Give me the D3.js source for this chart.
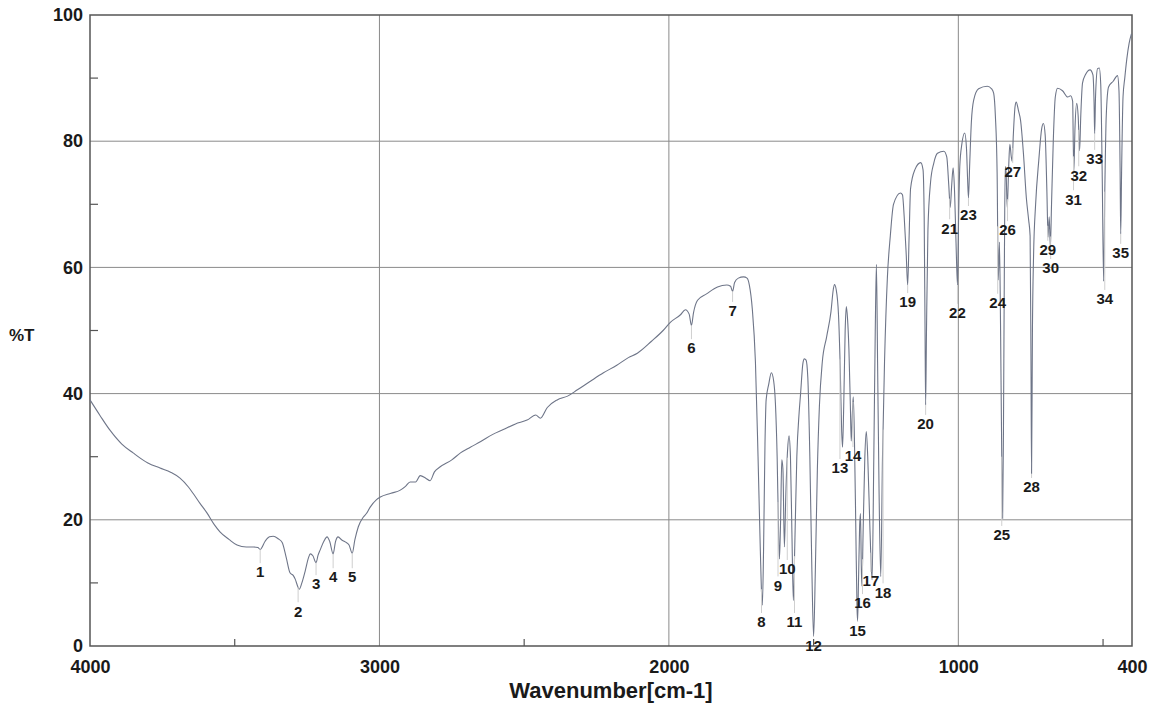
<!DOCTYPE html>
<html>
<head>
<meta charset="utf-8">
<script src="https://cdn.jsdelivr.net/npm/d3@7"></script>
<style>
    body { margin: 0; background: #fff; }
    svg text { font-family: "Liberation Sans", Arial, sans-serif; fill: #1a1a1a; }
</style>
</head>
<body>
<script>
// Spectrum trace, [wavenumber cm-1, %T]
let spectrum = [
    [4000, 39.0], [3965, 36.5], [3931, 34.2], [3890, 32.0], [3851, 30.6], [3800, 29.0],
    [3758, 28.2], [3720, 27.5], [3689, 26.6], [3660, 25.2], [3644, 24.2], [3620, 22.6],
    [3596, 21.1], [3570, 19.2], [3551, 18.1], [3520, 16.9], [3492, 16.0], [3460, 15.7],
    [3436, 15.7], [3420, 15.6], [3412, 15.3], [3395, 16.6], [3380, 17.3], [3367, 17.4],
    [3350, 17.0], [3336, 16.4], [3322, 14.0], [3309, 11.6], [3298, 11.2], [3291, 10.6],
    [3282, 9.4], [3277, 9.0], [3268, 10.0], [3257, 11.8], [3245, 14.0], [3239, 14.6],
    [3230, 14.3], [3219, 13.2], [3212, 14.4], [3205, 15.2], [3192, 16.6], [3181, 17.3],
    [3172, 16.6], [3160, 14.6], [3152, 16.5], [3143, 17.3], [3130, 16.8], [3118, 16.5],
    [3105, 16.0], [3094, 14.7], [3085, 16.8], [3073, 18.9], [3056, 20.4], [3045, 21.0],
    [3032, 22.0], [3010, 23.2], [2997, 23.6], [2960, 24.2], [2928, 24.7], [2910, 25.3],
    [2894, 26.0], [2875, 26.0], [2859, 27.0], [2840, 26.6], [2825, 26.2], [2810, 27.6],
    [2790, 28.4], [2750, 29.5], [2720, 30.6], [2686, 31.5], [2650, 32.4], [2610, 33.5],
    [2572, 34.3], [2530, 35.2], [2490, 35.8], [2460, 36.6], [2444, 36.1], [2420, 37.8],
    [2386, 39.0], [2350, 39.6], [2316, 40.6], [2270, 42.0], [2226, 43.3], [2180, 44.5],
    [2140, 45.7], [2109, 46.4], [2060, 48.3], [2020, 50.0], [1995, 51.3], [1960, 52.5],
    [1943, 53.3], [1930, 52.6], [1922, 50.8], [1915, 52.8], [1901, 54.8], [1870, 55.8],
    [1832, 56.9], [1800, 57.2], [1787, 57.0], [1780, 56.2], [1773, 57.6], [1760, 58.3],
    [1742, 58.5], [1730, 58.3], [1722, 57.2], [1712, 53.5], [1701, 45.0], [1692, 30.0],
    [1684, 15.0], [1679, 7.5], [1677, 6.5], [1673, 15.0], [1668, 32.0], [1664, 39.0],
    [1655, 41.5], [1646, 43.3], [1638, 42.0], [1632, 38.5], [1626, 30.0], [1621, 18.0],
    [1618, 13.8], [1614, 20.0], [1610, 29.5], [1606, 28.0], [1601, 15.7], [1596, 24.0],
    [1590, 31.0], [1585, 33.3], [1580, 30.0], [1575, 18.0], [1570, 7.2], [1565, 16.0],
    [1558, 30.0], [1550, 37.0], [1545, 40.0], [1537, 44.8], [1532, 45.5], [1526, 45.3],
    [1520, 42.5], [1513, 30.0], [1506, 12.0], [1500, 1.5], [1494, 12.0], [1487, 28.0],
    [1480, 38.0], [1470, 45.0], [1455, 49.0], [1440, 53.0], [1432, 56.5], [1428, 57.3],
    [1422, 56.5], [1414, 52.5], [1408, 44.0], [1403, 34.0], [1400, 31.5], [1396, 38.0],
    [1391, 50.0], [1387, 53.8], [1383, 52.0], [1378, 47.0], [1373, 38.0], [1370, 32.5],
    [1366, 37.0], [1363, 39.5], [1359, 33.0], [1354, 18.0], [1350, 6.0], [1348, 4.0],
    [1345, 10.0], [1341, 19.0], [1338, 21.0], [1335, 12.0], [1333, 9.5], [1329, 18.0],
    [1323, 30.0], [1318, 34.0], [1313, 30.0], [1305, 18.0], [1298, 10.5], [1292, 30.0],
    [1287, 50.0], [1283, 60.5], [1279, 45.0], [1274, 25.0], [1268, 11.0], [1262, 30.0],
    [1255, 45.0], [1245, 58.5], [1235, 65.0], [1224, 70.0], [1200, 71.8], [1193, 71.5],
    [1187, 68.0], [1180, 62.0], [1175, 57.2], [1170, 65.0], [1165, 72.5], [1150, 75.5],
    [1130, 76.6], [1122, 75.5], [1118, 68.0], [1115, 50.0], [1113, 38.2], [1110, 50.0],
    [1105, 66.0], [1096, 73.5], [1085, 76.5], [1072, 78.1], [1050, 78.4], [1040, 77.5],
    [1033, 73.0], [1028, 69.5], [1023, 73.0], [1018, 75.8], [1013, 72.0], [1008, 64.0],
    [1003, 57.2], [999, 68.0], [995, 76.0], [988, 79.5], [978, 81.3], [972, 79.0],
    [968, 74.0], [965, 71.0], [961, 76.0], [955, 83.0], [947, 86.5], [930, 88.3],
    [900, 88.7], [885, 88.3], [878, 87.6], [872, 84.0], [866, 75.0], [862, 58.0],
    [858, 64.0], [854, 50.0], [850, 30.0], [847, 20.2], [844, 35.0], [841, 60.0],
    [838, 76.0], [835, 75.0], [831, 69.5], [826, 76.0], [822, 79.5], [817, 77.5],
    [814, 76.8], [810, 81.0], [804, 85.5], [800, 86.2], [792, 84.8], [785, 83.3],
    [775, 78.0], [765, 71.0], [757, 67.5], [752, 65.0], [749, 45.0], [747, 27.3],
    [744, 50.0], [740, 62.0], [733, 70.0], [722, 77.0], [712, 82.0], [706, 82.8],
    [700, 81.0], [694, 72.0], [690, 64.8], [686, 68.0], [682, 63.2], [678, 70.0],
    [672, 80.0], [665, 87.0], [657, 88.4], [640, 88.0], [622, 87.0], [612, 87.2],
    [605, 86.3], [603, 80.0], [601, 75.2], [597, 82.0], [591, 86.0], [586, 84.0],
    [581, 78.5], [577, 84.0], [571, 89.2], [560, 90.6], [545, 91.3], [535, 90.5],
    [531, 86.0], [529, 81.2], [526, 87.0], [519, 91.5], [513, 91.6], [508, 89.0],
    [503, 75.0], [498, 57.8], [494, 72.0], [489, 84.0], [481, 88.6], [465, 89.5],
    [450, 90.4], [445, 88.0], [441, 75.0], [439, 65.3], [436, 75.0], [431, 87.0],
    [425, 90.0], [418, 93.0], [410, 95.5], [402, 97.0]
];

// Peak labels: [number, wavenumber of label, %T where the label sits]
let peakLabels = [
    [1, 3412, 11.7], [2, 3281, 5.5], [3, 3219, 9.8], [4, 3160, 10.9], [5, 3094, 10.9],
    [6, 1922, 47.2], [7, 1780, 53.1], [8, 1680, 3.8], [9, 1623, 9.6], [10, 1591, 12.2],
    [11, 1566, 3.8], [12, 1500, 0.0], [13, 1409, 28.2], [14, 1364, 30.1], [15, 1348, 2.4],
    [16, 1331, 6.8], [17, 1302, 10.3], [18, 1260, 8.5], [19, 1175, 54.5], [20, 1113, 35.2],
    [21, 1030, 66.2], [22, 1003, 52.8], [23, 965, 68.3], [24, 864, 54.4], [25, 850, 17.6],
    [26, 830, 65.9], [27, 812, 75.1], [28, 747, 25.2], [29, 691, 62.8], [30, 681, 59.9],
    [31, 602, 70.8], [32, 584, 74.6], [33, 529, 77.2], [34, 494, 55.0], [35, 439, 62.3]
];

let xTicks = [4000, 3000, 2000, 1000, 400];
let xMinorTicks = [3500, 2500, 1500, 500];
let yTicks = [0, 20, 40, 60, 80, 100];
let yMinorTicks = [10, 30, 50, 70, 90];
let xGrid = [3000, 2000, 1000];
let yGrid = [20, 40, 60, 80];

let opts = {
    width: 1157,
    height: 706,
    left: 90,
    right: 1132,
    top: 15,
    bottom: 646
};

let svg = d3.select("body")
            .append("svg")
            .attr("width", opts.width)
            .attr("height", opts.height);

let x = d3.scaleLinear().domain([4000, 400]).range([opts.left, opts.right]);
let y = d3.scaleLinear().domain([0, 100]).range([opts.bottom, opts.top]);

drawGrid();
drawAxes();
drawSpectrum();
drawPeakLabels();

// Grid lines inside the plot
function drawGrid() {
    svg.append("g")
        .selectAll("line.vgrid")
        .data(xGrid)
        .enter()
        .append("line")
        .attr("x1", d => x(d)).attr("x2", d => x(d))
        .attr("y1", opts.top).attr("y2", opts.bottom)
        .attr("stroke", "#8a8a8a").attr("stroke-width", 1);

    svg.append("g")
        .selectAll("line.hgrid")
        .data(yGrid)
        .enter()
        .append("line")
        .attr("x1", opts.left).attr("x2", opts.right)
        .attr("y1", d => y(d)).attr("y2", d => y(d))
        .attr("stroke", "#8a8a8a").attr("stroke-width", 1);
}

// Frame, ticks and axis labels
function drawAxes() {
    let xAxis = svg.append("g")
        .attr("transform", `translate(0,${opts.bottom})`)
        .call(d3.axisBottom(x).tickValues(xTicks).tickSize(0).tickPadding(14).tickFormat(d3.format("d")));
    xAxis.select(".domain").remove();
    xAxis.selectAll("text").attr("font-size", 18).attr("font-weight", "bold").attr("fill", "#1a1a1a");

    let yAxis = svg.append("g")
        .attr("transform", `translate(${opts.left},0)`)
        .call(d3.axisLeft(y).tickValues(yTicks).tickSize(0).tickPadding(7));
    yAxis.select(".domain").remove();
    yAxis.selectAll("text").attr("font-size", 18).attr("font-weight", "bold").attr("fill", "#1a1a1a");

    // minor ticks point into the plot
    svg.append("g")
        .selectAll("line")
        .data(xMinorTicks)
        .enter()
        .append("line")
        .attr("x1", d => x(d)).attr("x2", d => x(d))
        .attr("y1", opts.bottom).attr("y2", opts.bottom - 7)
        .attr("stroke", "#555").attr("stroke-width", 1.2);

    svg.append("g")
        .selectAll("line")
        .data(yMinorTicks)
        .enter()
        .append("line")
        .attr("x1", opts.left).attr("x2", opts.left + 8)
        .attr("y1", d => y(d)).attr("y2", d => y(d))
        .attr("stroke", "#555").attr("stroke-width", 1.2);

    svg.append("rect")
        .attr("x", opts.left).attr("y", opts.top)
        .attr("width", opts.right - opts.left)
        .attr("height", opts.bottom - opts.top)
        .attr("fill", "none")
        .attr("stroke", "#555")
        .attr("stroke-width", 1.5);

    svg.append("text")
        .attr("x", 9).attr("y", 341)
        .attr("font-size", 17).attr("font-weight", "bold")
        .text("%T");

    svg.append("text")
        .attr("x", 611).attr("y", 698)
        .attr("text-anchor", "middle")
        .attr("font-size", 22).attr("font-weight", "bold")
        .text("Wavenumber[cm-1]");
}

// The transmittance trace
function drawSpectrum() {
    let line = d3.line()
        .x(d => x(d[0]))
        .y(d => y(d[1]))
        .curve(d3.curveMonotoneX);

    svg.append("path")
        .datum(spectrum)
        .attr("d", line)
        .attr("fill", "none")
        .attr("stroke", "#6e7588")
        .attr("stroke-width", 1.1);
}

// Value of the trace at a given wavenumber
function traceAt(wn) {
    let i = spectrum.findIndex(d => d[0] <= wn);
    if (i <= 0) return spectrum[0][1];
    let a = spectrum[i - 1], b = spectrum[i];
    let t = (a[0] - wn) / (a[0] - b[0]);
    return a[1] + t * (b[1] - a[1]);
}

// Numbered peak markers
function drawPeakLabels() {
    let g = svg.append("g");

    g.selectAll("line")
        .data(peakLabels)
        .enter()
        .append("line")
        .attr("x1", d => x(d[1])).attr("x2", d => x(d[1]))
        .attr("y1", d => y(traceAt(d[1])))
        .attr("y2", d => y(d[2]) - 9)
        .attr("stroke", "#cfcfcf")
        .attr("stroke-width", 1);

    g.selectAll("text")
        .data(peakLabels)
        .enter()
        .append("text")
        .attr("x", d => x(d[1]))
        .attr("y", d => y(d[2]))
        .attr("dy", "0.35em")
        .attr("text-anchor", "middle")
        .attr("font-size", 15)
        .attr("font-weight", "bold")
        .text(d => d[0]);
}
</script>
</body>
</html>
